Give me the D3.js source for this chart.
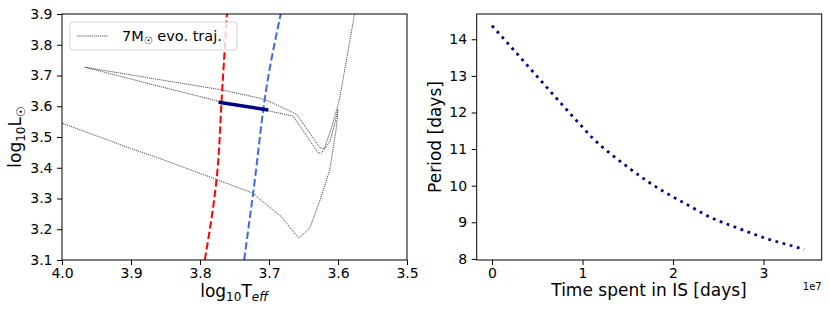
<!DOCTYPE html>
<html>
<head>
<meta charset="utf-8">
<script src="https://cdn.jsdelivr.net/npm/d3@7"></script>
<style>
body { margin: 0; background: #fff; }
text { font-family: "DejaVu Sans", sans-serif; }
</style>
</head>
<body>
<div id="chart"></div>
<script>
// evolutionary track of the 7 Msun model (log Teff, log L)
var trackTeff = [4.03, 4.00, 3.901, 3.863, 3.776, 3.723, 3.713, 3.682, 3.657, 3.641, 3.626, 3.612,
	3.603, 3.600, 3.607, 3.612, 3.624, 3.629, 3.665, 3.701, 3.771, 3.868, 3.967,
	3.868, 3.768, 3.713, 3.699, 3.660, 3.626, 3.620, 3.609, 3.598, 3.576, 3.570];
var trackL = [3.570, 3.545, 3.463, 3.434, 3.362, 3.317, 3.297, 3.241, 3.171, 3.203, 3.295, 3.393,
	3.52, 3.59, 3.523, 3.485, 3.447, 3.449, 3.568, 3.585, 3.615, 3.670, 3.727,
	3.690, 3.653, 3.626, 3.615, 3.574, 3.465, 3.462, 3.533, 3.62, 3.9, 3.98];

// instability strip edges
var redTeff = [3.793, 3.776, 3.768, 3.761];
var redL = [3.1, 3.362, 3.647, 3.9];
var blueTeff = [3.736, 3.723, 3.700, 3.683];
var blueL = [3.1, 3.317, 3.71, 3.9];

// part of the track inside the strip
var isTeff = [3.773, 3.701];
var isL = [3.613, 3.588];

// period against time spent in the strip
var timeIS = [0, 0.25, 0.5, 0.78, 1.0, 1.12, 1.3, 1.5, 1.7, 1.91, 2.13, 2.42, 2.73, 3.04, 3.28, 3.45];
var periodDays = [14.37, 13.68, 12.98, 12.20, 11.60, 11.28, 10.89, 10.51, 10.15, 9.82, 9.52, 9.13, 8.83, 8.55, 8.38, 8.26];

var teffTicks = [4.0, 3.9, 3.8, 3.7, 3.6, 3.5];
var lumTicks = [3.1, 3.2, 3.3, 3.4, 3.5, 3.6, 3.7, 3.8, 3.9];
var timeTicks = [0, 1, 2, 3];
var periodTicks = [8, 9, 10, 11, 12, 13, 14];

var svg = d3.select('#chart').append('svg')
	.attr('width', 830)
	.attr('height', 314);

function zip(a, b) {
	return a.map(function(v, i) { return [v, b[i]]; });
}

// ---------- left panel: HR diagram
var xL = d3.scaleLinear().domain([4.0, 3.5]).range([62, 407]);
var yL = d3.scaleLinear().domain([3.1, 3.9]).range([260, 14]);

svg.append('clipPath').attr('id', 'clipL')
	.append('rect').attr('x', 62).attr('y', 14).attr('width', 345).attr('height', 246);

var lineL = d3.line()
	.x(function(d) { return xL(d[0]); })
	.y(function(d) { return yL(d[1]); });

var left = svg.append('g').attr('clip-path', 'url(#clipL)');

left.append('path')
	.attr('d', lineL(zip(trackTeff, trackL)))
	.attr('fill', 'none')
	.attr('stroke', '#222')
	.attr('stroke-width', 0.8)
	.attr('stroke-dasharray', '1.2,0.9');

left.append('path')
	.attr('d', lineL.curve(d3.curveMonotoneY)(zip(redTeff, redL)))
	.attr('fill', 'none')
	.attr('stroke', '#ff0000')
	.attr('stroke-width', 2)
	.attr('stroke-dasharray', '7.4,3.2');

left.append('path')
	.attr('d', lineL(zip(blueTeff, blueL)))
	.attr('fill', 'none')
	.attr('stroke', '#4169e1')
	.attr('stroke-width', 2)
	.attr('stroke-dasharray', '7.4,3.2');

lineL.curve(d3.curveLinear);
left.append('path')
	.attr('d', lineL(zip(isTeff, isL)))
	.attr('fill', 'none')
	.attr('stroke', '#000080')
	.attr('stroke-width', 3.5);

svg.append('g').attr('transform', 'translate(0,260)')
	.call(d3.axisBottom(xL).tickValues(teffTicks).tickFormat(d3.format('.1f')).tickSize(5).tickPadding(3.5));
svg.append('g').attr('transform', 'translate(62,0)')
	.call(d3.axisLeft(yL).tickValues(lumTicks).tickFormat(d3.format('.1f')).tickSize(5).tickPadding(4.5));

svg.append('rect').attr('x', 62).attr('y', 14).attr('width', 345).attr('height', 246)
	.attr('fill', 'none').attr('stroke', '#000').attr('stroke-width', 1);

// legend
var leg = svg.append('g');
leg.append('rect').attr('x', 70).attr('y', 22).attr('width', 167).attr('height', 28).attr('rx', 3)
	.attr('fill', '#fff').attr('fill-opacity', 0.8).attr('stroke', '#d3d3d3');
leg.append('line').attr('x1', 77).attr('x2', 108).attr('y1', 36).attr('y2', 36)
	.attr('stroke', '#222').attr('stroke-width', 0.8).attr('stroke-dasharray', '1.2,0.9');
var lt = leg.append('text').attr('x', 122).attr('y', 41).style('font-size', '14.5px');
lt.append('tspan').text('7M');
lt.append('tspan').attr('dy', 3).style('font-size', '10px').text('\u2609');
lt.append('tspan').attr('dy', -3).text(' evo. traj.');

// axis labels
var xlab = svg.append('text').attr('x', 234).attr('y', 297).attr('text-anchor', 'middle').style('font-size', '17px');
xlab.append('tspan').text('log');
xlab.append('tspan').attr('dy', 4).style('font-size', '12px').text('10');
xlab.append('tspan').attr('dy', -4).text('T');
xlab.append('tspan').attr('dy', 4).style('font-size', '12px').style('font-style', 'italic').text('eff');

var ylab = svg.append('text').attr('transform', 'translate(21,137) rotate(-90)')
	.attr('text-anchor', 'middle').style('font-size', '17px');
ylab.append('tspan').text('log');
ylab.append('tspan').attr('dy', 4).style('font-size', '12px').text('10');
ylab.append('tspan').attr('dy', -4).text('L');
ylab.append('tspan').attr('dy', 4).style('font-size', '12px').text('\u2609');

// ---------- right panel: period evolution
var xR = d3.scaleLinear().domain([-0.169e7, 3.643e7]).range([476.7, 821.7]);
var yR = d3.scaleLinear().domain([7.97, 14.69]).range([260, 14]);

var lineR = d3.line()
	.x(function(d) { return xR(d[0] * 1e7); })
	.y(function(d) { return yR(d[1]); })
	.curve(d3.curveMonotoneX);

svg.append('path')
	.attr('d', lineR(zip(timeIS, periodDays)))
	.attr('fill', 'none')
	.attr('stroke', '#000080')
	.attr('stroke-width', 2.8)
	.attr('stroke-dasharray', '2.8,4.6');

svg.append('g').attr('transform', 'translate(0,260)')
	.call(d3.axisBottom(xR).tickValues(timeTicks.map(function(t) { return t * 1e7; }))
		.tickFormat(function(d) { return d / 1e7; }).tickSize(5).tickPadding(3.5));
svg.append('g').attr('transform', 'translate(476.7,0)')
	.call(d3.axisLeft(yR).tickValues(periodTicks).tickFormat(d3.format('d')).tickSize(5).tickPadding(4.5));

svg.append('rect').attr('x', 476.7).attr('y', 14).attr('width', 345).attr('height', 246)
	.attr('fill', 'none').attr('stroke', '#000').attr('stroke-width', 1);

svg.append('text').attr('x', 821.7).attr('y', 290).attr('text-anchor', 'end')
	.style('font-size', '10px').text('1e7');

svg.append('text').attr('x', 649).attr('y', 296).attr('text-anchor', 'middle')
	.style('font-size', '17px').text('Time spent in IS [days]');
svg.append('text').attr('transform', 'translate(441,137) rotate(-90)')
	.attr('text-anchor', 'middle').style('font-size', '17px').text('Period [days]');

svg.selectAll('.tick text').style('font-size', '14px').style('font-family', '"DejaVu Sans", sans-serif').attr('fill', '#000');
svg.selectAll('.domain').remove();
svg.selectAll('.tick line').attr('stroke', '#000');
</script>
</body>
</html>
